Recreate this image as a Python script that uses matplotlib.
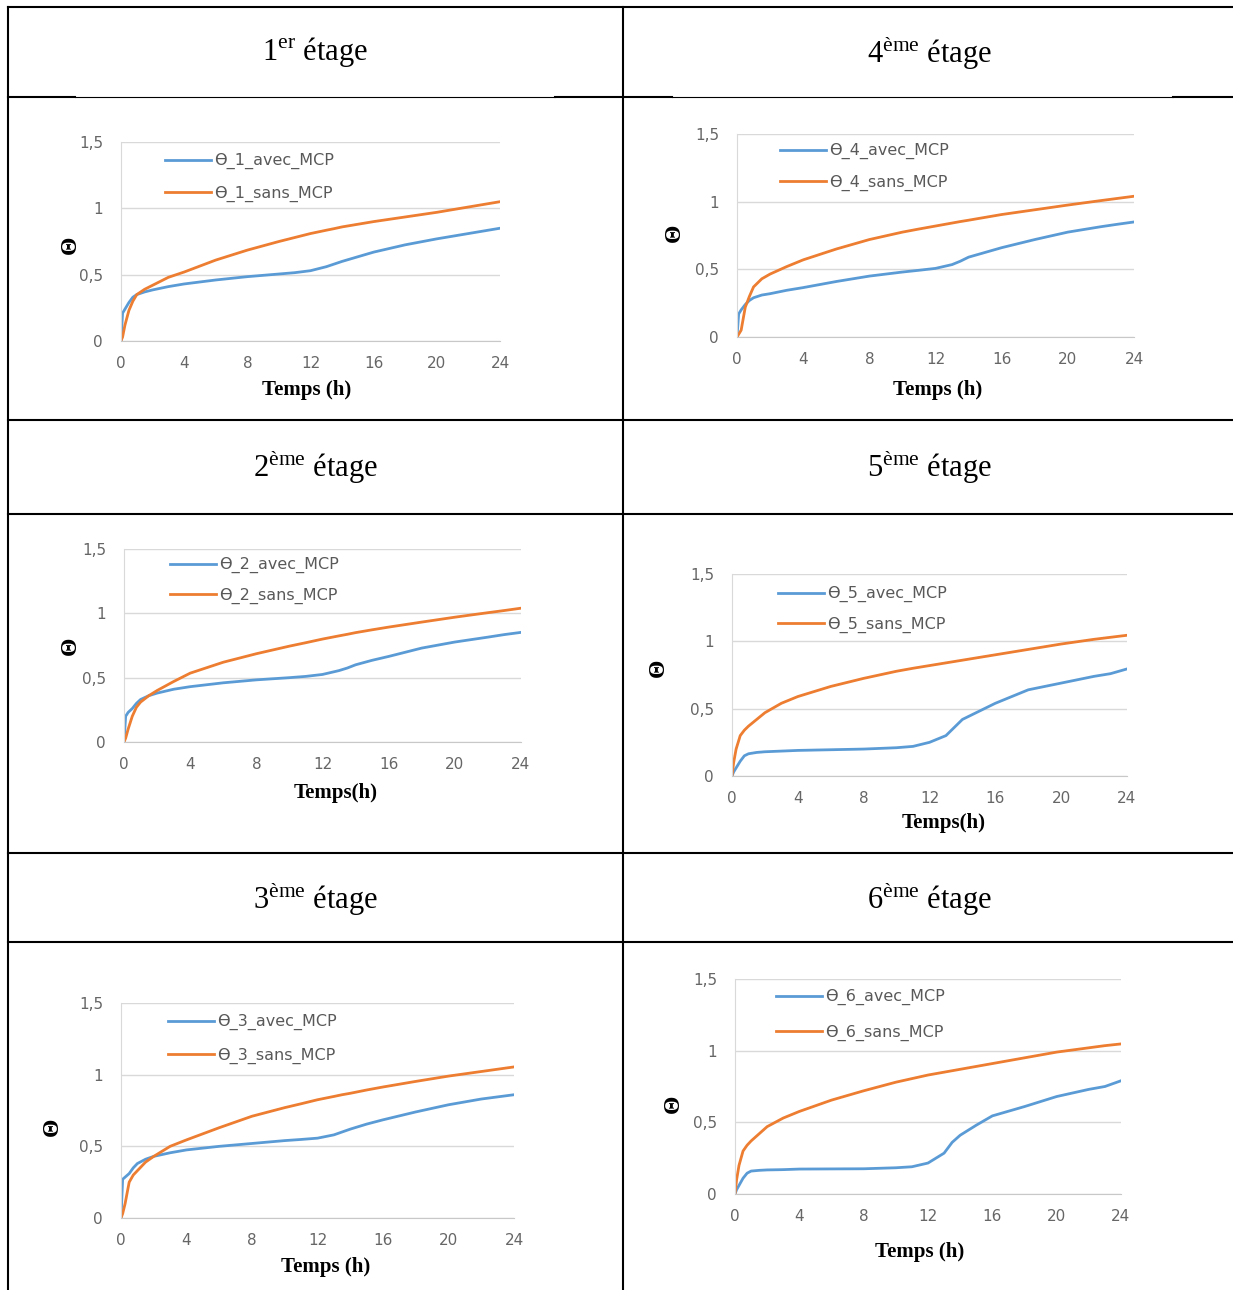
import matplotlib
matplotlib.use('Agg')
import matplotlib.pyplot as plt

# temps (h), grille commune de lecture
t = [0, 0.1, 0.25, 0.5, 0.75, 1, 1.5, 2, 3, 4, 6, 8, 10, 11, 12, 13, 13.5, 14, 15, 16, 18, 20, 22, 23, 24]

avec_1 = [0, 0.21, 0.24, 0.29, 0.33, 0.35, 0.37, 0.385, 0.41, 0.43, 0.46, 0.485, 0.505, 0.515, 0.53, 0.56, 0.58, 0.60, 0.635, 0.67, 0.725, 0.77, 0.81, 0.83, 0.85]
sans_1 = [0, 0.03, 0.12, 0.23, 0.30, 0.35, 0.39, 0.42, 0.48, 0.52, 0.61, 0.685, 0.75, 0.78, 0.81, 0.835, 0.847, 0.86, 0.88, 0.90, 0.935, 0.97, 1.01, 1.03, 1.05]
avec_2 = [0, 0.20, 0.23, 0.26, 0.30, 0.33, 0.36, 0.38, 0.41, 0.43, 0.46, 0.483, 0.50, 0.51, 0.525, 0.555, 0.575, 0.60, 0.635, 0.665, 0.73, 0.777, 0.815, 0.835, 0.852]
sans_2 = [0, 0.03, 0.10, 0.20, 0.27, 0.31, 0.36, 0.40, 0.47, 0.535, 0.62, 0.686, 0.745, 0.772, 0.80, 0.825, 0.837, 0.85, 0.872, 0.893, 0.932, 0.97, 1.005, 1.022, 1.04]
avec_3 = [0, 0.27, 0.285, 0.31, 0.35, 0.38, 0.41, 0.43, 0.455, 0.475, 0.50, 0.52, 0.54, 0.548, 0.557, 0.58, 0.60, 0.62, 0.655, 0.685, 0.74, 0.79, 0.83, 0.845, 0.86]
sans_3 = [0, 0.03, 0.10, 0.25, 0.30, 0.33, 0.39, 0.43, 0.50, 0.545, 0.63, 0.71, 0.77, 0.797, 0.825, 0.848, 0.86, 0.87, 0.893, 0.914, 0.953, 0.99, 1.022, 1.038, 1.054]
avec_4 = [0, 0.17, 0.20, 0.24, 0.27, 0.29, 0.31, 0.32, 0.345, 0.365, 0.41, 0.45, 0.48, 0.493, 0.507, 0.535, 0.56, 0.59, 0.625, 0.66, 0.72, 0.775, 0.815, 0.833, 0.85]
sans_4 = [0, 0.02, 0.05, 0.22, 0.30, 0.37, 0.43, 0.465, 0.52, 0.57, 0.65, 0.72, 0.775, 0.798, 0.82, 0.842, 0.853, 0.863, 0.884, 0.905, 0.94, 0.975, 1.008, 1.024, 1.04]
avec_5 = [0, 0.03, 0.06, 0.11, 0.15, 0.165, 0.175, 0.18, 0.185, 0.19, 0.195, 0.20, 0.21, 0.22, 0.25, 0.30, 0.36, 0.42, 0.48, 0.54, 0.64, 0.69, 0.74, 0.76, 0.795]
sans_5 = [0, 0.10, 0.20, 0.30, 0.34, 0.37, 0.42, 0.47, 0.54, 0.59, 0.665, 0.725, 0.778, 0.80, 0.82, 0.84, 0.85, 0.86, 0.88, 0.90, 0.94, 0.98, 1.015, 1.03, 1.045]
avec_6 = [0, 0.03, 0.06, 0.11, 0.145, 0.16, 0.165, 0.168, 0.17, 0.174, 0.175, 0.176, 0.183, 0.19, 0.216, 0.285, 0.36, 0.41, 0.48, 0.545, 0.61, 0.68, 0.73, 0.75, 0.79]
sans_6 = [0, 0.10, 0.20, 0.30, 0.34, 0.37, 0.42, 0.47, 0.53, 0.576, 0.655, 0.72, 0.78, 0.805, 0.83, 0.85, 0.86, 0.87, 0.89, 0.91, 0.95, 0.99, 1.02, 1.035, 1.047]

titres = ['1$^{\\mathrm{er}}$ étage', '2$^{\\mathrm{ème}}$ étage', '3$^{\\mathrm{ème}}$ étage',
          '4$^{\\mathrm{ème}}$ étage', '5$^{\\mathrm{ème}}$ étage', '6$^{\\mathrm{ème}}$ étage']
xlabels = ['Temps (h)', 'Temps(h)', 'Temps (h)', 'Temps (h)', 'Temps(h)', 'Temps (h)']
xticks = [0, 4, 8, 12, 16, 20, 24]
yticks = [0, 0.5, 1, 1.5]
yticklabels = ['0', '0,5', '1', '1,5']

series_avec = [avec_1, avec_2, avec_3, avec_4, avec_5, avec_6]
series_sans = [sans_1, sans_2, sans_3, sans_4, sans_5, sans_6]

plt.rcParams['mathtext.fontset'] = 'custom'
plt.rcParams['mathtext.rm'] = 'Liberation Serif'

W, H = 1233, 1290
fig = plt.figure(figsize=(W / 100, H / 100), dpi=100)
bg = fig.add_axes([0, 0, 1, 1])
bg.set_xlim(0, W)
bg.set_ylim(H, 0)
bg.axis('off')

# lignes du tableau
lw = 1.5
bg.plot([8, 8], [7, H], color='black', lw=lw)
bg.plot([623, 623], [7, H], color='black', lw=lw)
for y in [7, 420, 514, 853, 942]:
    bg.plot([8, W], [y, y], color='black', lw=lw)
bg.plot([8, 75], [97, 97], color='black', lw=lw)
bg.plot([75, 555], [97, 97], color='black', lw=0.8)
bg.plot([555, 672], [97, 97], color='black', lw=lw)
bg.plot([672, 1173], [97, 97], color='black', lw=0.8)
bg.plot([1173, W], [97, 97], color='black', lw=lw)

# positions (pixels) : gauche, droite, y=0, y=1.5
boxes = [(121, 500, 341, 142), (124, 521, 742, 549), (121, 514, 1218, 1003),
         (737, 1134, 337, 134), (732, 1127, 776, 574), (735, 1121, 1194, 979)]
title_pos = [(315, 52), (315, 467), (315, 898), (929, 52), (929, 467), (929, 898)]
ylab_pos = [(70, 245), (70, 646), (52, 1127), (674, 233), (658, 668), (673, 1104)]
xlab_pos = [(307, 390), (336, 793), (326, 1267), (938, 390), (944, 823), (920, 1252)]
leg_pos = [(165, 160, 193), (170, 564, 595), (168, 1021, 1055),
           (780, 150, 182), (778, 593, 624), (776, 996, 1032)]

blue = '#5B9BD5'
orange = '#ED7D31'
grey_txt = '#666666'

for i in range(6):
    n = [1, 2, 3, 4, 5, 6][i]
    left, right, y0, y15 = boxes[i]
    ax = fig.add_axes([left / W, 1 - y0 / H, (right - left) / W, (y0 - y15) / H])
    ax.set_facecolor('none')
    ax.plot(t, series_avec[i], color=blue, lw=2, label='ϴ_%d_avec_MCP' % n)
    ax.plot(t, series_sans[i], color=orange, lw=2, label='ϴ_%d_sans_MCP' % n)
    ax.set_xlim(0, 24)
    ax.set_ylim(0, 1.5)
    ax.set_xticks(xticks)
    ax.set_xticklabels([str(v) for v in xticks])
    ax.set_yticks(yticks)
    ax.set_yticklabels(yticklabels)
    ax.grid(axis='y', color='#d9d9d9', lw=1)
    ax.set_axisbelow(True)
    for s in ['top', 'right']:
        ax.spines[s].set_visible(False)
    ax.spines['left'].set_color('#d9d9d9')
    ax.spines['bottom'].set_color('#c8c8c8')
    ax.tick_params(length=0, labelsize=11, labelcolor=grey_txt)
    ax.tick_params(axis='x', pad=11)
    ax.tick_params(axis='y', pad=13)

    lx, ly1, ly2 = leg_pos[i]
    fs = 11.5
    fs_px = fs * 100 / 72
    ax.legend(loc='upper left', bbox_to_anchor=(lx / W, 1 - (ly1 + 3 - 0.62 * fs_px) / H),
              bbox_transform=fig.transFigure, frameon=False, borderpad=0, borderaxespad=0,
              handlelength=2.9, handletextpad=0.2,
              labelspacing=(ly2 - ly1 - 1.05 * fs_px) / fs_px,
              prop={'family': 'DejaVu Sans', 'size': fs}, labelcolor='#595959')

    tx, ty = title_pos[i]
    bg.text(tx, ty, titres[i], ha='center', va='center', fontsize=22, family='Liberation Serif')
    yx, yy = ylab_pos[i]
    bg.text(yx, yy, 'Θ', ha='center', va='center', rotation=90, fontsize=17,
            family='Liberation Serif', weight='bold')
    xx, xy = xlab_pos[i]
    bg.text(xx, xy, xlabels[i], ha='center', va='center', fontsize=15,
            family='Liberation Serif', weight='bold')

fig.savefig('out.png', dpi=100)
